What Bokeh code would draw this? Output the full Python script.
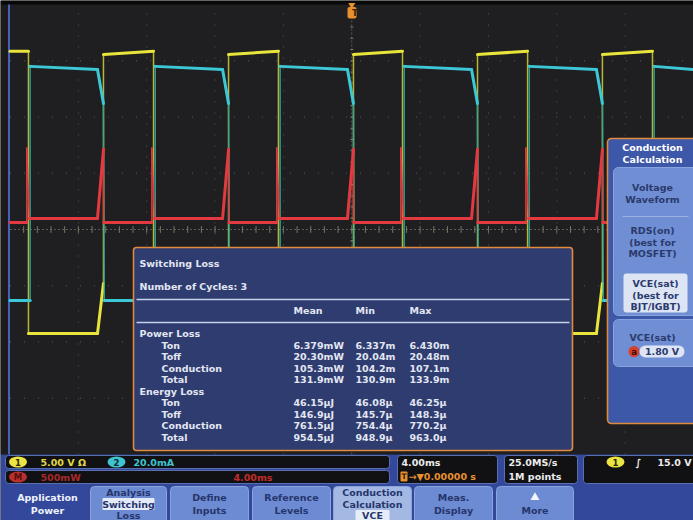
from bokeh.plotting import figure
from bokeh.models import Range1d
from bokeh.core.properties import value
from bokeh.embed import file_html
from bokeh.resources import INLINE

# ---------------- acquisition settings ----------------
TIME_PER_DIV = 4.0                     # ms / div
CH1_SCALE, CH1_POS = 5.0, -1.85        # V / div, ground position (div)
CH2_SCALE, CH2_POS = 20.0, -1.26       # mA / div
MATH_SCALE, MATH_POS = 500.0, 0.125    # mW / div

# ---------------- waveform data ----------------
turn_on_ms = [-18.92, -11.60, -4.29, 2.97, 10.29, 17.60]    # ch1 falling edges
turn_off_ms = [-14.53, -7.21, 0.10, 7.36, 14.67]            # ch1 rising edges
RAMP_MS = 0.35                                              # turn-off transition

ch1_off_v = [24.8, 25.1]      # plateau start / end
ch1_on_v = 0.0
ch1_knee_v = 4.45
ch2_on_ma = [83.2, 82.1]
ch2_knee_ma = 70.0
ch2_off_ma = 0.0
math_on_mw = 36.0
math_off_mw = 0.0
math_on_spike_mw = 667.0
math_off_spike_mw = 650.0

# ---------------- measurement table ----------------
table_title = "Switching Loss"
cycles_text = "Number of Cycles: 3"
col_headers = ["Mean", "Min", "Max"]
row_names = ["Ton", "Toff", "Conduction", "Total"]
power_mean = ["6.379mW", "20.30mW", "105.3mW", "131.9mW"]
power_min = ["6.337m", "20.04m", "104.2m", "130.9m"]
power_max = ["6.430m", "20.48m", "107.1m", "133.9m"]
energy_mean = ["46.15µJ", "146.9µJ", "761.5µJ", "954.5µJ"]
energy_min = ["46.08µ", "145.7µ", "754.4µ", "948.9µ"]
energy_max = ["46.25µ", "148.3µ", "770.2µ", "963.0µ"]

FONT = "DejaVu Sans"
W, H = 693, 520
GRAT_L, GRAT_R, GRAT_T, GRAT_B = 9.5, 693.0, 4.0, 454.0

px_per_ms = (GRAT_R - GRAT_L) / (10 * TIME_PER_DIV)
cx = (GRAT_L + GRAT_R) / 2
px_per_div = (GRAT_B - GRAT_T) / 8
cy = (GRAT_T + GRAT_B) / 2
div_top = cy / px_per_div
div_bot = (cy - H) / px_per_div

p = figure(width=W, height=H, x_range=Range1d(0, W), y_range=Range1d(H, 0),
           output_backend="svg", toolbar_location=None, min_border=0,
           x_axis_location=None, y_axis_location=None)
p.grid.visible = False
p.outline_line_color = None
p.background_fill_color = "#0a0a0a"
p.border_fill_color = "#0a0a0a"

p.extra_x_ranges = {"t": Range1d((0 - cx) / px_per_ms, (W - cx) / px_per_ms)}
p.extra_y_ranges = {
    "div": Range1d(div_bot, div_top),
    "ch1": Range1d((div_bot - CH1_POS) * CH1_SCALE, (div_top - CH1_POS) * CH1_SCALE),
    "ch2": Range1d((div_bot - CH2_POS) * CH2_SCALE, (div_top - CH2_POS) * CH2_SCALE),
    "math": Range1d((div_bot - MATH_POS) * MATH_SCALE, (div_top - MATH_POS) * MATH_SCALE),
}


def box(l, r, t, b, fill, line=None, lw=1, radius=0):
    p.quad(left=[l], right=[r], top=[t], bottom=[b], fill_color=fill,
           line_color=line, line_width=lw, border_radius=radius)


def label(x, y, s, color, size=9.5, align="left", bold=True):
    p.text(x=[x], y=[y], text=[s], text_color=color, text_font=value(FONT),
           text_font_size=f"{size}px", text_font_style="bold" if bold else "normal",
           text_align=align, text_baseline="middle")


# ---------------- screen background ----------------
box(0, W, 0, GRAT_T, "#080808")
box(0, 7.5, GRAT_T, GRAT_B, "#1b1b1d")
box(7.5, GRAT_L, GRAT_T, GRAT_B, "#4463b8")
box(GRAT_L, GRAT_R, GRAT_T, GRAT_B, "#1f1f21")
box(0, W, GRAT_B, H, "#33489b")

# ---------------- graticule ----------------
t_lines = [-20 + TIME_PER_DIV * k for k in range(1, 10) if k != 5]
p.segment(x0=t_lines, x1=t_lines, y0=[-4] * len(t_lines), y1=[4] * len(t_lines),
          x_range_name="t", y_range_name="div", line_color="#58585b",
          line_width=1, line_dash="1 10")
d_lines = [-3, -2, -1, 1, 2, 3]
p.segment(x0=[-20] * 6, x1=[20] * 6, y0=d_lines, y1=d_lines,
          x_range_name="t", y_range_name="div", line_color="#58585b",
          line_width=1, line_dash="1 13")
# centre cross with minor ticks
p.segment(x0=[-20, 0], x1=[20, 0], y0=[0, -4], y1=[0, 4], x_range_name="t",
          y_range_name="div", line_color="#5a5a50", line_width=1, line_dash="2 2")
minor_t = [-20 + 0.8 * k for k in range(1, 50)]
p.segment(x0=minor_t, x1=minor_t, y0=[-0.06] * len(minor_t), y1=[0.06] * len(minor_t),
          x_range_name="t", y_range_name="div", line_color="#77776a", line_width=1)
minor_d = [-4 + 0.2 * k for k in range(1, 40)]
p.segment(x0=[-0.09] * len(minor_d), x1=[0.09] * len(minor_d), y0=minor_d, y1=minor_d,
          x_range_name="t", y_range_name="div", line_color="#77776a", line_width=1)

# ---------------- traces ----------------
events = sorted([(t, "on") for t in turn_on_ms] + [(t, "off") for t in turn_off_ms])

yl = [(-20.0, ch1_off_v[1])]
cl = [(-20.0, ch2_off_ma)]
rl = [(-20.0, math_off_mw)]
for t, kind in events:
    if kind == "on":
        yl += [(t, ch1_off_v[1]), (t, ch1_on_v)]
        cl += [(t + 0.1, ch2_off_ma), (t + 0.1, ch2_on_ma[0])]
        rl += [(t - 0.1, math_off_mw), (t - 0.1, math_on_spike_mw), (t + 0.05, math_on_mw)]
    else:
        yl += [(t - RAMP_MS, ch1_on_v), (t, ch1_knee_v), (t, ch1_off_v[0])]
        cl += [(t - RAMP_MS, ch2_on_ma[1]), (t, ch2_knee_ma), (t + 0.05, ch2_off_ma)]
        rl += [(t - RAMP_MS, math_on_mw), (t, math_off_spike_mw), (t + 0.02, math_off_mw)]
yl.append((20.0, ch1_on_v))
cl.append((20.0, ch2_on_ma[1]))
rl.append((20.0, math_on_mw))


def draw_trace(pts, rng, color, edge_color, edge_alpha):
    flat = {"x0": [], "x1": [], "y0": [], "y1": []}
    steep = {"x0": [], "x1": [], "y0": [], "y1": []}
    for (xa, ya), (xb, yb) in zip(pts[:-1], pts[1:]):
        d = steep if abs(xb - xa) < 0.2 else flat
        d["x0"].append(xa); d["x1"].append(xb); d["y0"].append(ya); d["y1"].append(yb)
    p.segment(**steep, x_range_name="t", y_range_name=rng, line_color=edge_color,
              line_alpha=edge_alpha, line_width=1.5)
    p.segment(**flat, x_range_name="t", y_range_name=rng, line_color=color,
              line_width=3, line_cap="round")


draw_trace(yl, "ch1", "#e8e43c", "#c9c63a", 0.9)
draw_trace(cl, "ch2", "#3cc8d6", "#2fa596", 0.9)
draw_trace(rl, "math", "#e23a40", "#e23a40", 0.95)

# trigger position marker
p.scatter(x=[351.25], y=[4.5], marker="inverted_triangle", size=7,
          fill_color="#e8902f", line_color=None)
box(347, 356, 6.5, 18, "#e8902f", radius=2)
label(351.5, 12.5, "T", "#3a2000", size=8.5)

# ---------------- measurement table ----------------
TX_L, TX_R, TX_T, TX_B = 133, 572, 247, 450
box(TX_L, TX_R, TX_T, TX_B, "#2f3c70", line="#e08a3e", lw=1.6, radius=3)
TXT = "#e3e7f2"
label(139, 263, table_title, TXT)
label(139, 286, cycles_text, TXT)
p.segment(x0=[136, 136], x1=[569, 569], y0=[299, 322], y1=[299, 322],
          line_color="#c5d0ea", line_width=1.5)
col_x = [293, 355, 409]
for cxh, hdr in zip(col_x, col_headers):
    label(cxh, 310, hdr, TXT)

ROW_STEP = 11.55
y0 = 333
sections = [("Power Loss", power_mean, power_min, power_max),
            ("Energy Loss", energy_mean, energy_min, energy_max)]
row = 0
for title, means, mins, maxs in sections:
    label(139, y0 + row * ROW_STEP, title, TXT)
    row += 1
    for name, a, b, c in zip(row_names, means, mins, maxs):
        yy = y0 + row * ROW_STEP
        label(161, yy, name, TXT)
        for xx, s in zip(col_x, (a, b, c)):
            label(xx, yy, s, TXT)
        row += 1

# ---------------- side menu ----------------
box(607, 700, 138, 423, "#3d57a9", line="#e08a3e", lw=1.6, radius=4)
label(652, 147, "Conduction", "#ffffff", align="center")
label(652, 158.5, "Calculation", "#ffffff", align="center")
box(613, 700, 167, 315, "#6f8ed3", line="#89a3df", radius=5)
MENU_TXT = "#2b3a6c"
label(652, 187, "Voltage", MENU_TXT, align="center")
label(652, 198.5, "Waveform", MENU_TXT, align="center")
p.segment(x0=[622], x1=[688], y0=[216], y1=[216], line_color="#9bb1e2", line_width=1)
label(652, 230, "RDS(on)", MENU_TXT, align="center")
label(652, 241.5, "(best for", MENU_TXT, align="center")
label(652, 253, "MOSFET)", MENU_TXT, align="center")
box(623, 687, 273, 312, "#dde5f5", radius=3)
label(655, 283, "VCE(sat)", MENU_TXT, align="center")
label(655, 294.5, "(best for", MENU_TXT, align="center")
label(655, 306, "BJT/IGBT)", MENU_TXT, align="center")
box(613, 700, 319, 366, "#6f8ed3", line="#89a3df", radius=5)
label(652, 337, "VCE(sat)", MENU_TXT, align="center")
p.scatter(x=[633.5], y=[351], marker="circle", size=11, fill_color="#d8402c", line_color=None)
label(633.5, 351, "a", "#3a0c0c", size=8.5, align="center")
box(639, 684, 345, 357, "#dde5f5", radius=6)
label(661.5, 351, "1.80 V", MENU_TXT, align="center")

# ---------------- status bar ----------------
for l, r, t, b in [(5, 389, 455, 468), (5, 389, 470, 483), (397, 497, 455, 483),
                   (504, 577, 455, 483), (583, 705, 455, 483)]:
    box(l, r, t, b, "#111113", line="#5a6fb0", lw=1, radius=3)

for xx, yy, fill, tag, tcol in [(17.5, 461.5, "#ece443", "1", "#2a2800"),
                                (116, 461.5, "#3ec3cf", "2", "#0c2a30"),
                                (17.5, 476.5, "#b8302e", "M", "#5a0c0c"),
                                (615, 461.5, "#ece443", "1", "#2a2800")]:
    p.ellipse(x=[xx], y=[yy], width=18, height=11, fill_color=fill, line_color=None)
    label(xx, yy, tag, tcol, size=8.5, align="center")

label(40, 461.5, "5.00 V Ω", "#e2d948")
label(133, 461.5, "20.0mA", "#3ec3cf")
label(40, 476.5, "500mW", "#a82828")
label(272, 476.5, "4.00ms", "#c22c28", align="right")
label(401, 461.5, "4.00ms", "#ececec")
box(400, 407, 471, 481, "#e8902f", radius=1)
label(403.5, 476, "T", "#3a2000", size=7.5, align="center")
label(408, 476, "→▼0.00000 s", "#e8902f")
label(508, 461.5, "25.0MS/s", "#ececec")
label(508, 475.5, "1M points", "#ececec")
label(635, 461.5, "∫", "#ececec")
label(657, 461.5, "15.0 V", "#ececec")

# ---------------- bottom menu ----------------
BTN_TXT = "#26356c"
label(47, 496.5, "Application", "#eef2fb", align="center")
label(47, 509.5, "Power", "#eef2fb", align="center")

buttons = [(90, 166, "#6c8bd2"), (170, 248, "#6c8bd2"), (252, 330, "#6c8bd2"),
           (333, 411, "#a3b8e3"), (414, 492, "#6c8bd2"), (496, 573, "#6c8bd2")]
for l, r, fill in buttons:
    box(l, r, 486, 524, fill, line="#8aa4de", lw=1, radius=4)

box(102, 154, 497.5, 509.5, "#e4eaf7", radius=1)
label(128, 491.5, "Analysis", BTN_TXT, align="center")
label(128, 503.5, "Switching", BTN_TXT, align="center")
label(128, 515, "Loss", BTN_TXT, align="center")
label(209, 497, "Define", BTN_TXT, align="center")
label(209, 509.5, "Inputs", BTN_TXT, align="center")
label(291, 497, "Reference", BTN_TXT, align="center")
label(291, 509.5, "Levels", BTN_TXT, align="center")
box(355, 389, 509.5, 521, "#e6ecf8", radius=1)
label(372, 491.5, "Conduction", BTN_TXT, align="center")
label(372, 503.5, "Calculation", BTN_TXT, align="center")
label(372, 515, "VCE", BTN_TXT, align="center")
label(453, 497, "Meas.", BTN_TXT, align="center")
label(453, 509.5, "Display", BTN_TXT, align="center")
p.scatter(x=[534.5], y=[497], marker="triangle", size=9, fill_color="#f2f5fc", line_color=None)
label(534.5, 509.5, "More", BTN_TXT, align="center")

open("out.html", "w").write(file_html(p, INLINE))
